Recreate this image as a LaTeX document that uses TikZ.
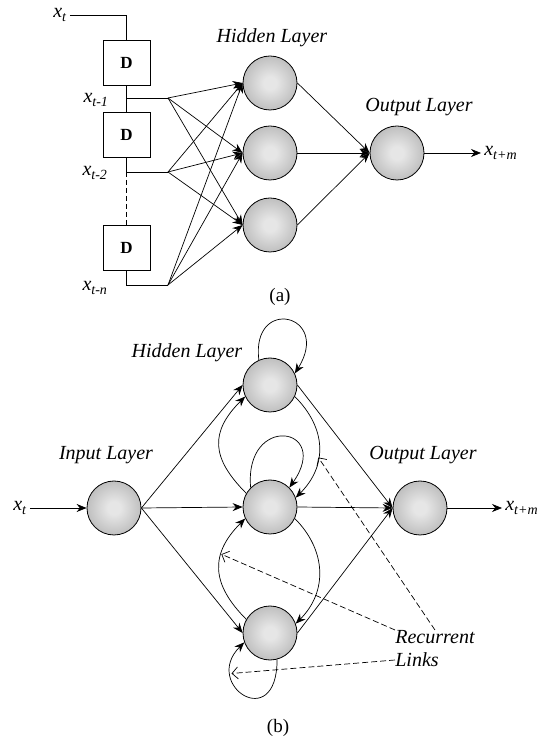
\documentclass[tikz,border=0pt]{standalone}
\usepackage{fontspec}
\setmainfont{Liberation Serif}
\usetikzlibrary{arrows.meta}
\definecolor{light}{RGB}{230, 230, 230}
\definecolor{dark}{RGB}{140, 140, 140}
\pgfdeclareradialshading{ball}{\pgfpoint{0bp}{0bp}}%
  {color(0bp)=(light); color(6bp)=(light); color(50bp)=(dark)}

\tikzset{
  neuron/.style={circle, draw=black, line width=0.8pt, shading=ball,
                 minimum size=54pt, inner sep=0pt},
  delay/.style={draw, line width=0.8pt, minimum width=47pt, minimum height=45pt,
                font=\fontsize{17}{20}\selectfont\bfseries},
  layer/.style={font=\fontsize{20}{24}\selectfont\itshape},
  var/.style={font=\fontsize{20}{24}\selectfont\itshape, inner sep=3pt},
  caption/.style={font=\fontsize{19}{22}\selectfont},
  arr/.style={-{Stealth[length=10pt, width=8pt]}},
  link/.style={dash pattern=on 6pt off 3pt, -{Straight Barb[length=6pt, width=12pt]}}
}

\begin{document}
\begin{tikzpicture}[x=1pt, y=1pt, line width=0.7pt]

  \useasboundingbox (0, 0) rectangle (539, 740);

  % (a) tapped delay line
  \begin{scope}[shift={(0, 440)}]

    \node[var] (xt) at (60, 285) {x\textsubscript{t}};

    \node[delay] (d1) at (126.5, 237) {D};
    \node[delay] (d2) at (126.5, 165) {D};
    \node[delay] (d3) at (126.5, 52) {D};

    \coordinate (t1) at (168, 202);
    \coordinate (t2) at (168, 128);
    \coordinate (tn) at (168, 15);

    \draw (xt) -| (d1);
    \draw (d1) -- (d2);
    \draw (d1.south |- t1) -- (t1);
    \draw (d2.south) |- (t2);
    \draw[dash pattern=on 5pt off 3pt] (d2.south |- t2) -- (d3.north);
    \draw (d3.south) |- (tn);

    \node[var] (x1) at (96, 200) {x\textsubscript{t-1}};
    \node[var] (x2) at (95, 127) {x\textsubscript{t-2}};
    \node[var] (xn) at (95, 12) {x\textsubscript{t-n}};

    \foreach \n/\y in {1/217, 2/147, 3/75} {
      \node[neuron] (h\n) at (270, \y) {};
    }
    \node[neuron] (oa) at (397, 147) {};
    \node[var, anchor=west] (ya) at (481, 147) {x\textsubscript{t+m}};

    \foreach \t in {t1, t2, tn} {
      \foreach \n in {1, 2, 3} {
        \draw[arr] (\t) -- (h\n.west);
      }
    }
    \foreach \n in {1, 2, 3} {
      \draw[arr] (h\n.east) -- (oa.west);
    }
    \draw[arr] (oa) -- (ya);

    \node[layer] (hla) at (272, 262) {Hidden Layer};
    \node[layer] (ola) at (419, 193) {Output Layer};
    \node[caption] (ca) at (280, 3) {(a)};

  \end{scope}

  % (b) recurrent network
  \begin{scope}[shift={(0, 0)}]

    \node[var] (xb) at (20, 232) {x\textsubscript{t}};
    \node[neuron] (ib) at (114, 232) {};

    \foreach \n/\y in {1/355, 2/233, 3/107} {
      \node[neuron] (g\n) at (270, \y) {};
    }
    \node[neuron] (ob) at (420, 232) {};
    \node[var, anchor=west] (yb) at (502, 232) {x\textsubscript{t+m}};

    \draw[arr] (xb) -- (ib);
    \foreach \n in {1, 2, 3} {
      \draw[arr] (ib.east) -- (g\n.west);
      \draw[arr] (g\n.east) -- (ob.west);
    }
    \draw[arr] (ob) -- (yb);

    % self loops
    \draw[arr] (g1.114) .. controls +(97:65) and +(58:70) .. (g1.25);
    \draw[arr] (g2.135) .. controls +(95:75) and +(55:75) .. (g2.45);
    \draw[arr] (g3.-75) .. controls +(-90:75) and +(-135:60) .. (g3.200)
      coordinate[pos=0.75] (r3);

    % links between hidden units
    \draw[arr] (g1.-25) .. controls +(-45:45) and +(45:45) .. (g2.20)
      coordinate[pos=0.6] (r1);
    \draw[arr] (g2.150) .. controls +(135:50) and +(-135:50) .. (g1.205);
    \draw[arr] (g2.-25) .. controls +(-45:45) and +(45:45) .. (g3.20);
    \draw[arr] (g3.150) .. controls +(135:50) and +(-135:50) .. (g2.205)
      coordinate[pos=0.65] (r2);

    \node[layer] (ilb) at (106, 285) {Input Layer};
    \node[layer] (hlb) at (187, 387) {Hidden Layer};
    \node[layer] (olb) at (423, 285) {Output Layer};

    \node[layer, anchor=west, inner sep=0pt] (rec) at (395, 103) {Recurrent};
    \node[layer, anchor=west, inner sep=0pt] (lnk) at (395, 80) {Links};

    \draw[link] (rec.north) -- (r1);
    \draw[link] (rec.north west) -- (r2);
    \draw[link] (lnk.west) -- (r3);

    \node[caption] (cb) at (278, 12) {(b)};

  \end{scope}

\end{tikzpicture}
\end{document}
